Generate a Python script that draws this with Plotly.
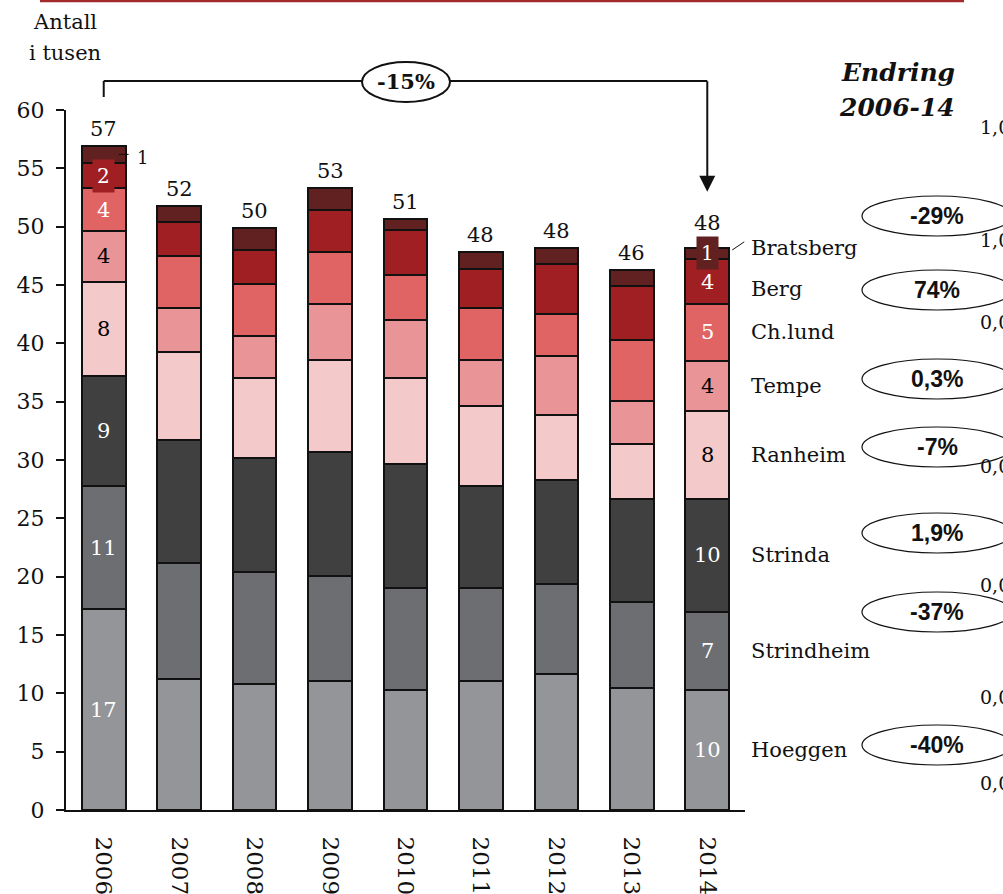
import plotly.graph_objects as go
import numpy as np

years = ["2006", "2007", "2008", "2009", "2010", "2011", "2012", "2013", "2014"]
series_names = ["Hoeggen", "Strindheim", "Strinda", "Ranheim", "Tempe", "Ch.lund", "Berg", "Bratsberg"]
hoeggen    = [17.2, 11.2, 10.8, 11.1, 10.3, 11.1, 11.7, 10.5, 10.3]
strindheim = [10.6, 10.0, 9.6, 9.0, 8.7, 7.9, 7.7, 7.3, 6.7]
strinda    = [9.4, 10.5, 9.8, 10.6, 10.7, 8.8, 8.9, 8.9, 9.7]
ranheim    = [8.1, 7.6, 6.8, 7.9, 7.3, 6.8, 5.6, 4.7, 7.5]
tempe      = [4.3, 3.75, 3.6, 4.8, 5.0, 4.0, 5.0, 3.7, 4.3]
chlund     = [3.7, 4.45, 4.5, 4.4, 3.9, 4.4, 3.6, 5.2, 4.9]
berg       = [2.2, 2.9, 2.9, 3.6, 3.8, 3.4, 4.3, 4.6, 3.8]
bratsberg  = [1.4, 1.4, 1.9, 1.9, 1.0, 1.4, 1.4, 1.4, 1.0]
series_values = [hoeggen, strindheim, strinda, ranheim, tempe, chlund, berg, bratsberg]
colors = ["#939598", "#6d6e71", "#404040", "#f4c9ca", "#e99597", "#e06464", "#a01f22", "#622121"]
label_colors = ["white", "white", "white", "black", "black", "white", "white", "black"]
change_names = ["Bratsberg", "Berg", "Tempe", "Ranheim", "Strinda", "Strindheim", "Hoeggen"]
change_labels = ["-29%", "74%", "0,3%", "-7%", "1,9%", "-37%", "-40%"]
total_change_label = "-15%"
cut_labels = ["1,0", "1,0", "0,0", "0,0", "0,0", "0,0", "0,0"]

# geometry (pixels)
W, H = 1003, 894
L, R, T, B = 66, 745, 110, 810
def pxx(x):
    return (x - L) / (R - L)
def pxy(y):
    return (B - y) / (B - T)

SERIF = "'DejaVu Serif', Georgia, serif"
SANS = "'Liberation Sans', Arial, sans-serif"
INK = "#111111"

fig = go.Figure()
for name, vals, col in zip(series_names, series_values, colors):
    fig.add_trace(go.Bar(x=years, y=vals, name=name, marker=dict(color=col, line=dict(color=INK, width=2)),
                         width=0.58, showlegend=False, hoverinfo="skip"))

arr = np.array(series_values, dtype=float)
cum = np.cumsum(arr, axis=0)
totals = cum[-1]
annotations = []
shapes = []

def ann(**kw):
    base = dict(showarrow=False, xanchor="center", yanchor="middle")
    base.update(kw)
    annotations.append(base)

# totals
for i in range(len(years)):
    ann(x=i, y=float(totals[i]), xref="x", yref="y", text=str(int(round(totals[i]))),
        yanchor="bottom", yshift=3 if i < len(years) - 1 else 11, font=dict(family=SERIF, size=21, color=INK))

# segment labels for first and last year
for idx in [0, len(years) - 1]:
    for s in range(len(series_names)):
        v = float(arr[s, idx])
        centre = float(cum[s, idx]) - v / 2
        txt = str(max(1, int(round(v))))
        name = series_names[s]
        if name == "Bratsberg" and idx == 0:
            ann(x=idx, y=centre, xref="x", yref="y", text=txt, xanchor="left", xshift=31, yshift=-3,
                font=dict(family=SERIF, size=18, color=INK))
            continue
        kw = dict(x=idx, y=centre, xref="x", yref="y", text=txt,
                  font=dict(family=SERIF, size=21, color=label_colors[s]))
        if name == "Berg" and idx == 0:
            kw.update(bgcolor=colors[s], borderpad=4, yshift=-1, font=dict(family=SERIF, size=20, color="white"))
        if name == "Bratsberg":
            kw.update(bgcolor=colors[s], borderpad=4, yshift=1, font=dict(family=SERIF, size=20, color="white"))
        ann(**kw)

# leader lines for small labels
yb = float(cum[-1, 0] - arr[-1, 0] / 2)
shapes.append(dict(type="line", xref="x", yref="y", x0=0.2, x1=0.33, y0=yb, y1=yb, line=dict(color=INK, width=1)))
shapes.append(dict(type="line", xref="x", yref="y", x0=8.33, x1=8.49, y0=48.0, y1=48.7,
                   line=dict(color=INK, width=1)))

# series names at right of last bar
name_shift = {"Bratsberg": 6, "Berg": -7}
for s, name in enumerate(series_names):
    v = float(arr[s, -1])
    centre = float(cum[s, -1]) - v / 2
    ann(x=8.5, y=centre, xref="x", yref="y", text=name, xanchor="left", xshift=4,
        yshift=name_shift.get(name, 0), font=dict(family=SERIF, size=21, color=INK))

# change ellipses
ell_y = [216, 290, 379, 447, 533, 612, 745]
for lab, yy in zip(change_labels, ell_y):
    shapes.append(dict(type="circle", xref="paper", yref="paper", x0=pxx(862), x1=pxx(1012),
                       y0=pxy(yy - 20), y1=pxy(yy + 20), line=dict(color=INK, width=1.2)))
    ann(x=pxx(937), y=pxy(yy), xref="paper", yref="paper", text="<b>%s</b>" % lab,
        font=dict(family=SANS, size=23, color=INK))

# cut-off labels at right edge
cut_y = [127, 240, 322, 466, 585, 697, 783]
for lab, yy in zip(cut_labels, cut_y):
    ann(x=pxx(978), y=pxy(yy), xref="paper", yref="paper", text=lab, xanchor="left",
        font=dict(family=SERIF, size=19, color=INK))

# Endring header
ann(x=pxx(957), y=pxy(72), xref="paper", yref="paper", text="<b><i>Endring</i></b>", xanchor="right",
    font=dict(family=SERIF, size=25, color=INK))
ann(x=pxx(957), y=pxy(108), xref="paper", yref="paper", text="<b><i>2006-14</i></b>", xanchor="right",
    font=dict(family=SERIF, size=25, color=INK))

# y axis title
ann(x=pxx(65), y=pxy(22), xref="paper", yref="paper", text="Antall", font=dict(family=SERIF, size=21, color=INK))
ann(x=pxx(65), y=pxy(53), xref="paper", yref="paper", text="i tusen", font=dict(family=SERIF, size=21, color=INK))

# bracket and arrow (paper coordinates so they are not clipped)
yt = pxy(81)
x_first = pxx(L + (R - L) * 0.5 / 9)
x_last = pxx(L + (R - L) * 8.5 / 9)
shapes.append(dict(type="line", xref="paper", yref="paper", x0=x_first, x1=x_first, y0=pxy(97), y1=yt,
                   line=dict(color=INK, width=2)))
shapes.append(dict(type="line", xref="paper", yref="paper", x0=x_first, x1=x_last, y0=yt, y1=yt,
                   line=dict(color=INK, width=2)))
annotations.append(dict(x=8, y=53.0, xref="x", yref="y", ax=8, ay=62.6, axref="x", ayref="y", text="",
                        showarrow=True, arrowhead=2, arrowsize=1.6, arrowwidth=2, arrowcolor=INK))
shapes.append(dict(type="circle", xref="paper", yref="paper", x0=pxx(362), x1=pxx(450), y0=pxy(62), y1=pxy(102),
                   fillcolor="white", line=dict(color=INK, width=2), layer="above"))
ann(x=pxx(406), y=pxy(82), xref="paper", yref="paper", text="<b>%s</b>" % total_change_label,
    font=dict(family=SERIF, size=21, color=INK))

# top red rule
shapes.append(dict(type="line", xref="paper", yref="paper", x0=pxx(40), x1=pxx(964), y0=pxy(1), y1=pxy(1),
                   line=dict(color="#a32a2a", width=2.5)))

fig.update_layout(
    width=W, height=H, barmode="stack",
    margin=dict(l=L, r=W - R, t=T, b=H - B, pad=0, autoexpand=False),
    paper_bgcolor="white", plot_bgcolor="white",
    font=dict(family=SERIF, color=INK),
    annotations=annotations, shapes=shapes,
    xaxis=dict(type="category", range=[-0.5, 8.5], showline=True, linecolor=INK, linewidth=2,
               ticks="", tickangle=90, ticklabelstandoff=20, automargin=False,
               tickfont=dict(family=SERIF, size=23, color=INK), showgrid=False, fixedrange=True),
    yaxis=dict(range=[0, 60], tickvals=list(range(0, 61, 5)), showline=True, linecolor=INK, linewidth=2,
               ticks="outside", ticklen=8, tickwidth=2, tickcolor=INK, showgrid=False, zeroline=False,
               automargin=False, ticklabelstandoff=7,
               tickfont=dict(family=SERIF, size=22, color=INK), fixedrange=True),
)

fig.write_html("out.html", config={"displayModeBar": False},
               post_script="document.body.style.margin='0';document.body.style.overflow='hidden';")
